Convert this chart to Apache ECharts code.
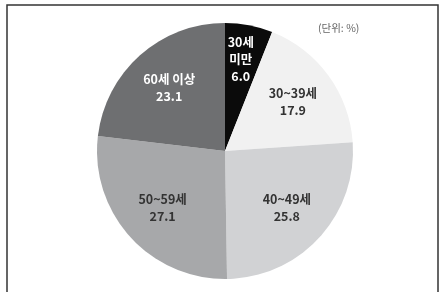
<!DOCTYPE html>
<html>
<head>
<meta charset="utf-8">
<script src="https://cdn.jsdelivr.net/npm/echarts@6/dist/echarts.min.js"></script>
<style>
html, body { margin: 0; padding: 0; background: #fff; }
#container { width: 440px; height: 292px; }
</style>
</head>
<body>
<div id="container"></div>
<script>
var dom = document.getElementById("container");
var myChart = echarts.init(dom);

// 연령대별 비중 (단위: %)
var categories = ['30세\n미만', '30~39세', '40~49세', '50~59세', '60세 이상'];
var values = [6.0, 17.9, 25.8, 27.1, 23.1];
var colors = ['#0b0b0b', '#f1f1f1', '#d1d2d4', '#a7a8aa', '#6e6f71'];
var labelColors = ['#ffffff', '#333333', '#333333', '#333333', '#ffffff'];

var pieData = [];
var labelData = [];
for (var i = 0; i < categories.length; i++) {
    pieData.push({ name: categories[i], value: values[i], itemStyle: { color: colors[i] } });
    labelData.push({ name: categories[i], value: values[i], label: { color: labelColors[i] } });
}

var option = {
    animation: false,
    graphic: [{
        type: 'rect',
        shape: { x: 7, y: 5, width: 431, height: 300 },
        style: { fill: 'none', stroke: '#333', lineWidth: 1.5 }
    }, {
        type: 'text',
        left: 318,
        top: 23,
        style: { text: '(단위: %)', fill: '#666', font: '10.5px "Noto Sans CJK KR"' }
    }],
    series: [{
        type: 'pie',
        center: [225, 151],
        radius: [0, 128],
        startAngle: 90,
        clockwise: true,
        silent: true,
        label: { show: false },
        labelLine: { show: false },
        data: pieData
    }, {
        // 라벨 전용 투명 링
        type: 'pie',
        center: [225, 151],
        radius: [34, 128],
        startAngle: 90,
        clockwise: true,
        silent: true,
        itemStyle: { color: 'rgba(0,0,0,0)' },
        label: {
            show: true,
            position: 'inside',
            fontFamily: '"Noto Sans CJK KR"',
            fontSize: 12.5,
            fontWeight: 'bold',
            lineHeight: 17,
            formatter: function (p) {
                return p.name + '\n' + p.value.toFixed(1);
            }
        },
        labelLine: { show: false },
        labelLayout: function (params) {
            if (params.dataIndex === 0) {
                return { dy: -9 };
            }
            return {};
        },
        data: labelData
    }]
};

if (option && typeof option === "object") {
    myChart.setOption(option, true);
}
</script>
</body>
</html>
